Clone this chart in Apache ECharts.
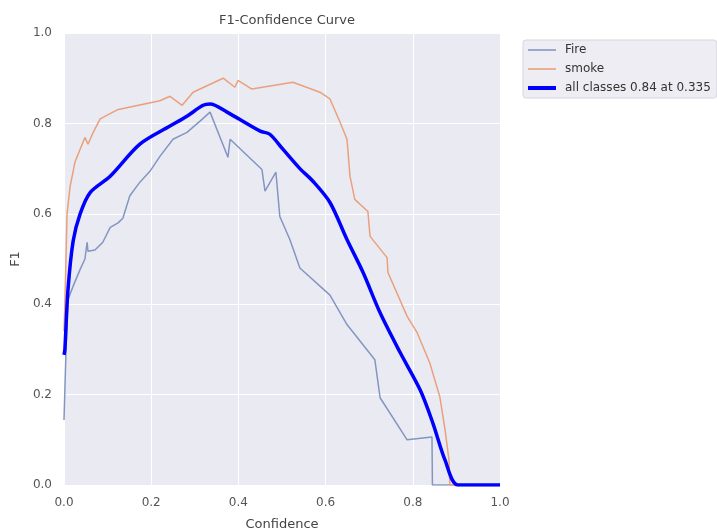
<!DOCTYPE html>
<html>
<head>
<meta charset="utf-8">
<script src="https://cdn.jsdelivr.net/npm/echarts@6/dist/echarts.min.js"></script>
<style>
html,body{margin:0;padding:0;background:#fff;}
#chart{width:717px;height:531px;}
</style>
</head>
<body>
<div id="chart"></div>
<script>
// ---- data ----
var chartTitle = 'F1-Confidence Curve';
var seriesNames = ['Fire', 'smoke', 'all classes 0.84 at 0.335'];
var axisTicks = [0, 0.2, 0.4, 0.6, 0.8, 1.0];

var fireX = [0, 0.005, 0.009, 0.021, 0.037, 0.048, 0.053, 0.055, 0.071, 0.089, 0.106, 0.124, 0.135, 0.151, 0.174, 0.197, 0.220, 0.250, 0.282, 0.312, 0.335, 0.376, 0.381, 0.454, 0.461, 0.486, 0.495, 0.518, 0.541, 0.610, 0.649, 0.713, 0.725, 0.787, 0.844, 0.845, 1.0];
var fireY = [0.144, 0.31, 0.41, 0.44, 0.477, 0.50, 0.537, 0.517, 0.52, 0.537, 0.57, 0.58, 0.59, 0.64, 0.67, 0.694, 0.727, 0.765, 0.78, 0.805, 0.825, 0.725, 0.765, 0.698, 0.65, 0.692, 0.594, 0.543, 0.48, 0.42, 0.355, 0.277, 0.193, 0.10, 0.106, 0.0, 0.0];

var smokeX = [0, 0.002, 0.007, 0.014, 0.025, 0.037, 0.048, 0.055, 0.067, 0.083, 0.122, 0.220, 0.243, 0.271, 0.296, 0.365, 0.392, 0.399, 0.431, 0.525, 0.587, 0.610, 0.633, 0.649, 0.656, 0.667, 0.697, 0.702, 0.741, 0.743, 0.787, 0.810, 0.839, 0.862, 0.874, 0.883, 0.885, 1.0];
var smokeY = [0.34, 0.40, 0.60, 0.66, 0.714, 0.743, 0.769, 0.754, 0.78, 0.81, 0.83, 0.85, 0.86, 0.84, 0.869, 0.90, 0.88, 0.895, 0.876, 0.891, 0.869, 0.854, 0.803, 0.765, 0.683, 0.632, 0.605, 0.55, 0.503, 0.47, 0.373, 0.337, 0.27, 0.195, 0.122, 0.055, 0.0, 0.0];

var allX = [0, 0.002, 0.009, 0.021, 0.037, 0.060, 0.106, 0.174, 0.243, 0.282, 0.319, 0.335, 0.374, 0.450, 0.472, 0.502, 0.541, 0.571, 0.610, 0.649, 0.686, 0.725, 0.771, 0.817, 0.846, 0.874, 0.904, 1.0];
var allY = [0.288, 0.30, 0.43, 0.54, 0.60, 0.647, 0.683, 0.754, 0.794, 0.816, 0.84, 0.843, 0.825, 0.783, 0.776, 0.743, 0.70, 0.672, 0.625, 0.543, 0.47, 0.381, 0.293, 0.21, 0.137, 0.055, 0.0, 0.0];

function zip(xs, ys) { return xs.map(function (x, i) { return [x, ys[i]]; }); }

var FONT = 'DejaVu Sans';
var COLORS = ['#8396C2', '#E9A07C', '#0000FF'];
var chart = echarts.init(document.getElementById('chart'), null, { renderer: 'canvas' });
var axisCommon = {
  type: 'value', min: 0, max: 1, interval: 0.2,
  axisLine: { show: false }, axisTick: { show: false },
  splitLine: { show: true, lineStyle: { color: '#ffffff', width: 1 } },
  axisLabel: { color: '#555555', fontSize: 12, fontFamily: FONT, formatter: function (v) { return v.toFixed(1); } },
  nameTextStyle: { color: '#444444', fontSize: 13, fontFamily: FONT }
};
chart.setOption({
  animation: false,
  backgroundColor: '#ffffff',
  title: {
    text: chartTitle, left: 282, top: 9, textAlign: 'center',
    textStyle: { color: '#444444', fontSize: 13, fontWeight: 'normal', fontFamily: FONT }
  },
  grid: { left: 64, right: 217, top: 33, bottom: 46, show: true, backgroundColor: '#EAEAF2', borderWidth: 0,
    containLabel: false, outerBoundsMode: 'none' },
  xAxis: Object.assign({}, axisCommon, {
    name: 'Confidence', nameLocation: 'middle', nameGap: 33,
    axisLabel: Object.assign({}, axisCommon.axisLabel, { margin: 12 })
  }),
  yAxis: Object.assign({}, axisCommon, {
    name: 'F1', nameLocation: 'middle', nameGap: 40,
    axisLabel: Object.assign({}, axisCommon.axisLabel, { margin: 12 })
  }),
  legend: {
    orient: 'vertical', left: 523, top: 40,
    itemWidth: 28, itemHeight: 14, itemGap: 7,
    padding: [4, 6, 4, 5],
    symbolKeepAspect: true,
    backgroundColor: '#EDEDF3', borderColor: '#d6d6de', borderWidth: 1, borderRadius: 3,
    textStyle: { color: '#333333', fontSize: 12, fontFamily: FONT, padding: [0, 0, 0, 4] },
    data: [
      { name: seriesNames[0], icon: 'path://M0,0L28,0L28,1.6L0,1.6Z', itemStyle: { color: COLORS[0] } },
      { name: seriesNames[1], icon: 'path://M0,0L28,0L28,1.6L0,1.6Z', itemStyle: { color: COLORS[1] } },
      { name: seriesNames[2], icon: 'path://M0,0L28,0L28,4L0,4Z', itemStyle: { color: COLORS[2] } }
    ]
  },
  series: [
    { name: seriesNames[0], type: 'line', data: zip(fireX, fireY), symbol: 'none',
      lineStyle: { color: COLORS[0], width: 1.5 }, itemStyle: { color: COLORS[0] } },
    { name: seriesNames[1], type: 'line', data: zip(smokeX, smokeY), symbol: 'none',
      lineStyle: { color: COLORS[1], width: 1.5 }, itemStyle: { color: COLORS[1] } },
    { name: seriesNames[2], type: 'line', data: zip(allX, allY), symbol: 'none', smooth: 0.3,
      lineStyle: { color: COLORS[2], width: 3.5 }, itemStyle: { color: COLORS[2] } }
  ]
});
</script>
</body>
</html>
